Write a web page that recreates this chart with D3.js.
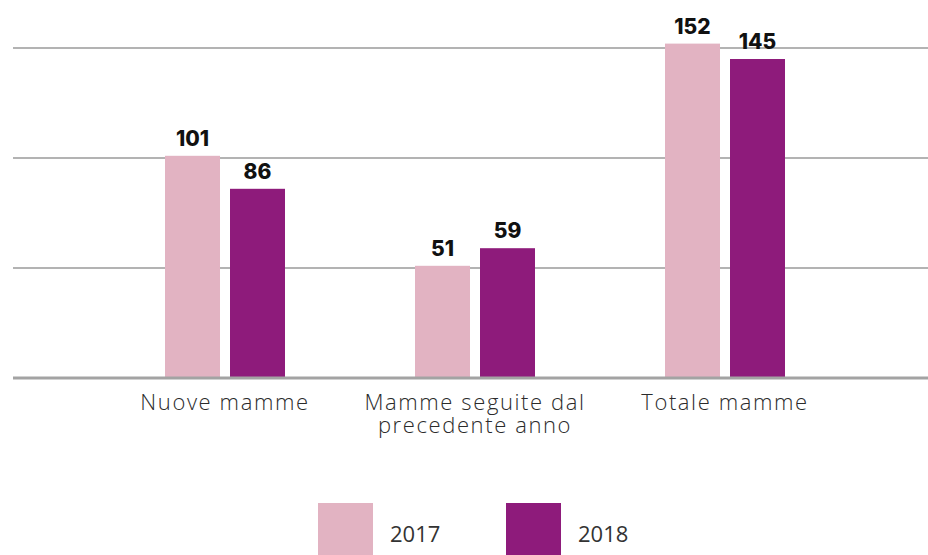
<!DOCTYPE html>
<html>
<head>
<meta charset="utf-8">
<script src="https://cdn.jsdelivr.net/npm/d3@7"></script>
<style>
  body { margin: 0; background: #fff; }
  svg { display: block; }
</style>
</head>
<body>
<script>

var categories = [["Nuove mamme"], ["Mamme seguite dal", "precedente anno"], ["Totale mamme"]];
var years = ["2017", "2018"];
var values2017 = [101, 51, 152];
var values2018 = [86, 59, 145];
var gridTicks = [50, 100, 150];
var colors = ["#e2b3c2", "#8e1b7b"];

var width = 928, height = 555;

var svg = d3.select("body").append("svg")
    .attr("width", width)
    .attr("height", height);

var keys = categories.map(function(c){ return c.join(" "); });

var x0 = d3.scaleBand()
    .domain(keys)
    .range([100, 850]);

var x1 = d3.scaleBand()
    .domain(years)
    .range([65, 185])
    .paddingInner(10/65);

var y = d3.scaleLinear()
    .domain([0, 150])
    .range([378, 48]);

// gridlines
svg.append("g").selectAll("line")
    .data(gridTicks)
    .enter().append("line")
    .attr("x1", 13).attr("x2", width)
    .attr("y1", function(d){ return y(d); })
    .attr("y2", function(d){ return y(d); })
    .attr("stroke", "#b3b3b3")
    .attr("stroke-width", 2);

var series = [values2017, values2018];

var groups = svg.append("g").selectAll("g")
    .data(keys)
    .enter().append("g")
    .attr("transform", function(d){ return "translate(" + x0(d) + ",0)"; });

groups.selectAll("rect")
    .data(function(d, i){ return years.map(function(yr, j){ return {year: yr, value: series[j][i], j: j}; }); })
    .enter().append("rect")
    .attr("x", function(d){ return x1(d.year); })
    .attr("width", x1.bandwidth())
    .attr("y", function(d){ return y(d.value); })
    .attr("height", function(d){ return y(0) - y(d.value); })
    .attr("fill", function(d){ return colors[d.j]; });

groups.selectAll("text.val")
    .data(function(d, i){ return years.map(function(yr, j){ return {year: yr, value: series[j][i]}; }); })
    .enter().append("text")
    .attr("class", "val")
    .attr("x", function(d){ return x1(d.year) + x1.bandwidth()/2; })
    .attr("y", function(d){ return y(d.value) - 10; })
    .attr("text-anchor", "middle")
    .attr("font-family", "Inter, 'Open Sans', sans-serif")
    .attr("font-weight", 800)
    .attr("font-size", "21px")
    .attr("fill", "#111")
    .text(function(d){ return d.value; });

// baseline
svg.append("line")
    .attr("x1", 13).attr("x2", width)
    .attr("y1", y(0)).attr("y2", y(0))
    .attr("stroke", "#a3a3a3")
    .attr("stroke-width", 3);

// category labels
var catText = svg.append("g").selectAll("text")
    .data(categories)
    .enter().append("text")
    .attr("x", function(d, i){ return x0(keys[i]) + x0.bandwidth()/2; })
    .attr("y", 410)
    .attr("text-anchor", "middle")
    .attr("font-family", "'Open Sans', Lato, sans-serif")
    .attr("font-weight", 300)
    .attr("font-size", "22px")
    .attr("letter-spacing", "1.6px")
    .attr("fill", "#2b2b2b");

catText.selectAll("tspan")
    .data(function(d){ return d; })
    .enter().append("tspan")
    .attr("x", function(){ return d3.select(this.parentNode).attr("x"); })
    .attr("dy", function(d, i){ return i === 0 ? 0 : 23; })
    .text(function(d){ return d; });

// legend
var legend = svg.append("g").selectAll("g")
    .data(years)
    .enter().append("g")
    .attr("transform", function(d, i){ return "translate(" + (318 + i*188) + ",503)"; });

legend.append("rect")
    .attr("width", 55).attr("height", 52)
    .attr("fill", function(d, i){ return colors[i]; });

legend.append("text")
    .attr("x", 72)
    .attr("y", 39)
    .attr("font-family", "'Open Sans', Lato, sans-serif")
    .attr("font-size", "22px")
    .attr("fill", "#333")
    .text(function(d){ return d; });

</script>
</body>
</html>
